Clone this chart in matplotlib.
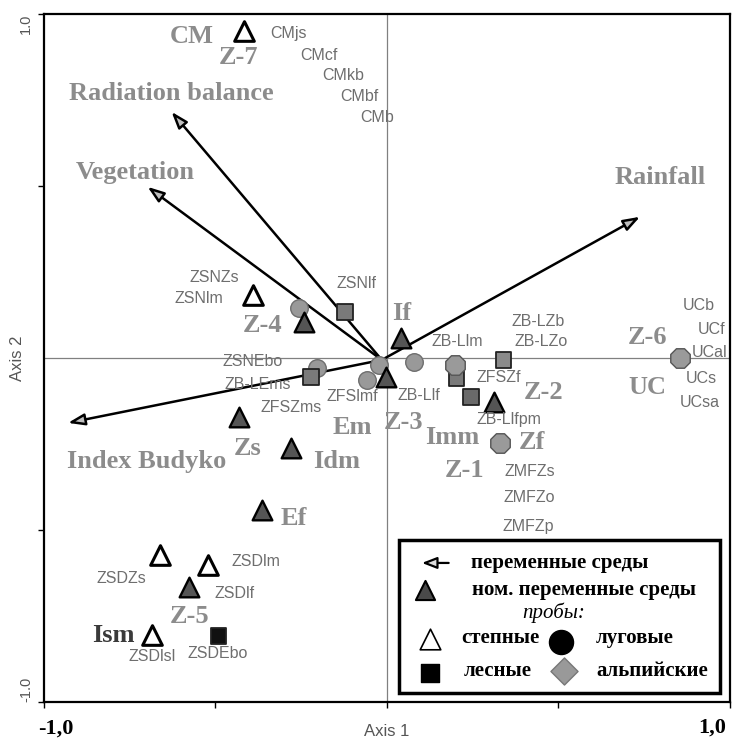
import matplotlib
matplotlib.use("Agg")
import matplotlib.pyplot as plt
from matplotlib.patches import Rectangle

# --- данные (оси 1 и 2 ординации) ---
# пробы: степные
steppe_x = [-0.416, -0.390, -0.663, -0.523, -0.686]
steppe_y = [0.951, 0.183, -0.573, -0.602, -0.805]

# номинальные переменные среды
nom_x = [-0.241, 0.041, -0.003, -0.430, -0.279, 0.311, -0.363, -0.576]
nom_y = [0.105, 0.058, -0.055, -0.172, -0.262, -0.128, -0.442, -0.666]

# луговые
meadow_x = [-0.256, -0.023, -0.058, -0.203, 0.078]
meadow_y = [0.145, -0.020, -0.064, -0.029, -0.012]

# лесные
forest_x = [-0.122, -0.221, 0.203, 0.340, 0.244, -0.491]
forest_y = [0.134, -0.055, -0.058, -0.006, -0.113, -0.808]
forest_c = ['#7a7a7a', '#7a7a7a', '#7a7a7a', '#8a8a8a', '#6a6a6a', '#111111']

# альпийские
alpine_x = [0.198, 0.331, 0.855]
alpine_y = [-0.020, -0.247, 0.000]

# переменные среды (векторы)
vec_names = ['Radiation balance', 'Vegetation', 'Rainfall', 'Index Budyko']
vec_x = [-0.628, -0.698, 0.738, -0.930]
vec_y = [0.715, 0.497, 0.410, -0.189]
vec_origin = (-0.015, -0.006)
vec_label_x = [-0.628, -0.733, 0.797, -0.701]
vec_label_y = [0.767, 0.538, 0.523, -0.302]

# крупные подписи (зоны, группы)
big_names = ['CM', 'Z-7', 'Z-4', 'If', 'Em', 'Z-3', 'Zs', 'Idm', 'Imm', 'Zf',
             'Z-1', 'Z-2', 'Z-6', 'UC', 'Ef', 'Z-5', 'Ism']
big_x = [-0.570, -0.433, -0.363, 0.044, -0.102, 0.047, -0.407, -0.148, 0.189,
         0.424, 0.227, 0.456, 0.759, 0.759, -0.273, -0.576, -0.799]
big_y = [0.933, 0.872, 0.093, 0.128, -0.203, -0.189, -0.262, -0.302, -0.230,
         -0.247, -0.326, -0.102, 0.058, -0.087, -0.468, -0.753, -0.808]

# мелкие подписи проб
small_names = ['CMjs', 'CMcf', 'CMkb', 'CMbf', 'CMb', 'ZSNZs', 'ZSNlm', 'ZSNlf',
               'ZSNEbo', 'ZB-LEms', 'ZFSlmf', 'ZFSZms', 'ZB-Llm', 'ZB-LZb',
               'ZB-LZo', 'ZFSZf', 'ZB-Llf', 'ZB-Llfpm', 'ZMFZs', 'ZMFZo',
               'ZMFZp', 'UCb', 'UCf', 'UCal', 'UCs', 'UCsa', 'ZSDZs', 'ZSDlm',
               'ZSDlf', 'ZSDlsl', 'ZSDEbo']
small_x = [-0.288, -0.198, -0.128, -0.081, -0.029, -0.503, -0.549, -0.090,
           -0.392, -0.378, -0.102, -0.279, 0.206, 0.442, 0.451, 0.326, 0.093,
           0.355, 0.416, 0.416, 0.413, 0.910, 0.948, 0.942, 0.916, 0.913,
           -0.773, -0.381, -0.445, -0.686, -0.494]
small_y = [0.942, 0.878, 0.820, 0.759, 0.698, 0.235, 0.172, 0.215, -0.012,
           -0.076, -0.113, -0.145, 0.049, 0.105, 0.047, -0.058, -0.108, -0.180,
           -0.331, -0.407, -0.491, 0.151, 0.081, 0.017, -0.061, -0.131,
           -0.640, -0.593, -0.686, -0.869, -0.860]

SERIF = 'Liberation Serif'
SANS = 'Liberation Sans'
BIG_C = '#8c8c8c'
SMALL_C = '#6e6e6e'

fig = plt.figure(figsize=(7.32, 7.40), dpi=100)
ax = fig.add_axes([0.0601, 0.0514, 0.937, 0.930])
ax.set_xlim(-1, 1)
ax.set_ylim(-1, 1)

# рамка и оси через ноль
for s in ax.spines.values():
    s.set_linewidth(1.6)
ax.axhline(0, color='#808080', lw=0.9, zorder=1)
ax.axvline(0, color='#808080', lw=0.9, zorder=1)

ax.set_xticks([-1, -0.5, 0, 0.5, 1])
ax.set_xticklabels([])
ax.set_yticks([-1, -0.5, 0.5, 1])
ax.set_yticklabels(['-1.0', '', '', '1.0'], rotation=90, fontsize=10.5,
                   family=SANS, color='#555555')
ax.tick_params(length=4, width=1, pad=4)
for lab, va in zip(ax.get_yticklabels(), ['bottom', 'center', 'center', 'top']):
    lab.set_va(va)

# векторы
for i in range(len(vec_names)):
    ax.annotate('', xy=(vec_x[i], vec_y[i]), xytext=vec_origin,
                arrowprops=dict(arrowstyle='-|>,head_length=1.0,head_width=0.35',
                                fc='#c0c0c0', ec='black', lw=1.8,
                                shrinkA=0, shrinkB=0), zorder=3)
    ax.text(vec_label_x[i], vec_label_y[i], vec_names[i], family=SERIF,
            weight='bold', fontsize=19, color=BIG_C, ha='center', va='center')

# точки
ax.scatter(meadow_x, meadow_y, s=160, marker='o', c='#999999',
           edgecolors='#6e6e6e', linewidths=1, zorder=4)
ax.scatter(forest_x, forest_y, s=130, marker='s', c=forest_c,
           edgecolors='#222222', linewidths=1.3, zorder=5)
ax.scatter(alpine_x, alpine_y, s=230, marker='8', c='#9a9a9a',
           edgecolors='#555555', linewidths=1, zorder=5)
ax.scatter(nom_x, nom_y, s=200, marker='^', c='#555555',
           edgecolors='black', linewidths=1.7, zorder=6)
ax.scatter(steppe_x, steppe_y, s=200, marker='^', c='white',
           edgecolors='black', linewidths=2.2, zorder=6)

# подписи
for n, x, y in zip(big_names, big_x, big_y):
    col = '#3a3a3a' if n == 'Ism' else BIG_C
    ax.text(x, y, n, family=SERIF, weight='bold', fontsize=19, color=col,
            ha='center', va='center', zorder=7)
for n, x, y in zip(small_names, small_x, small_y):
    ax.text(x, y, n, family=SANS, fontsize=11.5, color=SMALL_C,
            ha='center', va='center', zorder=7, clip_on=True)

# легенда (рисуется вручную)
ax.add_patch(Rectangle((0.035, -0.974), 0.936, 0.445, fill=True, fc='white',
                       ec='black', lw=2.5, zorder=8))
ax.annotate('', xy=(0.102, -0.596), xytext=(0.180, -0.596),
            arrowprops=dict(arrowstyle='-|>,head_length=0.9,head_width=0.35',
                            fc='#dddddd', ec='black', lw=1.6,
                            shrinkA=0, shrinkB=0), zorder=9)
ax.scatter([0.110], [-0.674], s=190, marker='^', c='#4a4a4a',
           edgecolors='black', linewidths=1.5, zorder=9)
ax.scatter([0.125], [-0.818], s=220, marker='^', c='white',
           edgecolors='black', linewidths=1.2, zorder=9)
ax.scatter([0.509], [-0.826], s=300, marker='o', c='black', zorder=9)
ax.scatter([0.125], [-0.916], s=150, marker='s', c='black', zorder=9)
ax.scatter([0.517], [-0.910], s=190, marker='D', c='#999999',
           edgecolors='#777777', zorder=9)
leg_font = dict(family=SERIF, weight='bold', fontsize=15, color='black',
                va='center', ha='left', zorder=9)
ax.text(0.244, -0.596, 'переменные среды', **leg_font)
ax.text(0.247, -0.674, 'ном. переменные среды', **leg_font)
ax.text(0.485, -0.741, 'пробы:', family=SERIF, style='italic', fontsize=15,
        ha='center', va='center', zorder=9)
ax.text(0.218, -0.814, 'степные', **leg_font)
ax.text(0.610, -0.814, 'луговые', **leg_font)
ax.text(0.224, -0.910, 'лесные', **leg_font)
ax.text(0.610, -0.910, 'альпийские', **leg_font)

# подписи осей
fig.text(56 / 732, 1 - 729 / 740, '-1,0', family=SERIF, weight='bold',
         fontsize=16, ha='center', va='center')
fig.text(712 / 732, 1 - 728 / 740, '1,0', family=SERIF, weight='bold',
         fontsize=16, ha='center', va='center')
fig.text(387 / 732, 1 - 731 / 740, 'Axis 1', family=SANS, fontsize=12,
         color='#555555', ha='center', va='center')
fig.text(18 / 732, 1 - 358 / 740, 'Axis 2', family=SANS, fontsize=12,
         color='#555555', ha='center', va='center', rotation=90)

fig.savefig('out.png', dpi=100)
